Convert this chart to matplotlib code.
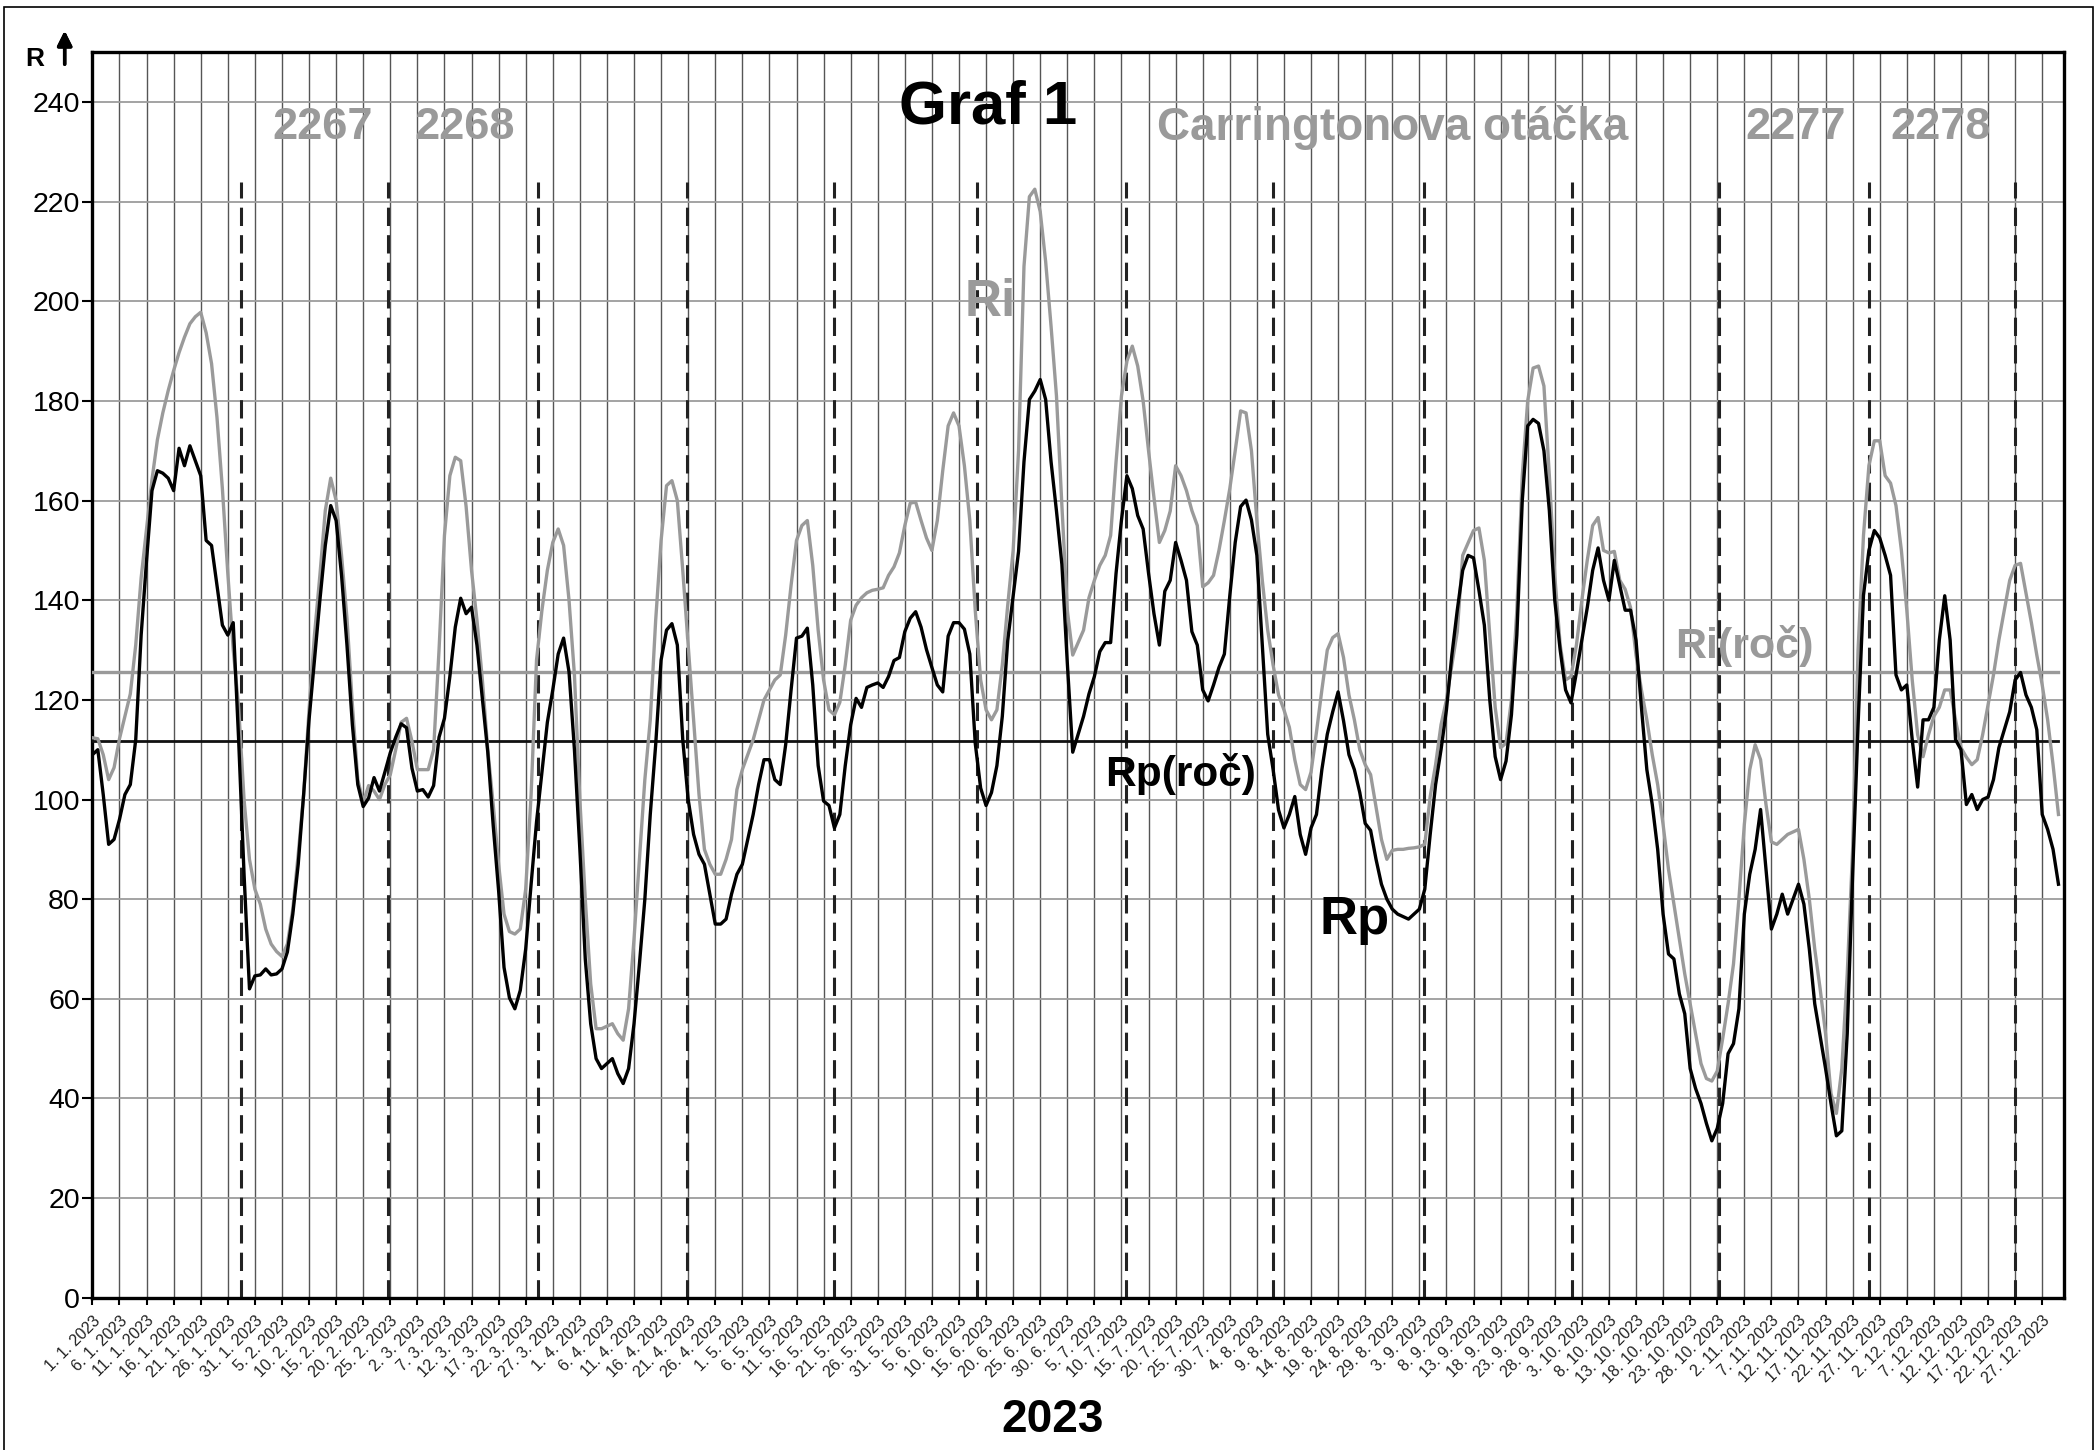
import numpy as np
import pandas as pd
import matplotlib
matplotlib.use("Agg")
import matplotlib.pyplot as plt
from matplotlib.patches import Rectangle

plt.rcParams['font.family'] = ['Liberation Sans', 'DejaVu Sans']

# daily values 1.1.2023 - 30.12.2023
rp = [109, 110, 101, 91, 92, 96, 101, 103, 112, 133,
      148, 162, 166, 165.5, 164.5, 162, 170.5, 167, 171, 168,
      165, 152, 151, 143, 135, 133, 135.5, 112, 85, 62,
      64.6, 64.8, 66, 64.8, 65, 66, 69.4, 77, 87, 101,
      116, 128, 140, 151, 159, 156, 145, 131, 115, 103,
      98.6, 100.3, 104.4, 101.7, 105.5, 109.4, 112.5, 115.2, 114.4, 106.3,
      101.7, 102, 100.5, 102.8, 112.5, 116.3, 124.7, 134.6, 140.4, 137.3,
      138.6, 131, 120.3, 109.5, 94.8, 81.7, 66.3, 60.2, 58, 61.7,
      70, 83, 95.5, 105.5, 115.5, 122, 129.2, 132.4, 125.6, 110,
      90, 68, 55, 48, 46, 47, 48, 45, 43, 46,
      55, 67, 80, 97, 111, 128, 134, 135.3, 131, 112,
      100, 93, 89, 87, 81, 75, 75, 76, 81, 85,
      87, 92, 97, 103, 108, 108, 104, 103, 111, 122,
      132.4, 132.8, 134.4, 123, 106.8, 99.7, 98.8, 94.3, 97, 106.8,
      115, 120.3, 118.5, 122.5, 123, 123.4, 122.5, 124.7, 127.9, 128.5,
      133.7, 136.4, 137.7, 134.6, 130.1, 126.5, 123, 121.6, 132.8, 135.5,
      135.5, 134.2, 129.2, 111.3, 102.3, 98.8, 101.4, 106.8, 116.7, 131.9,
      140.9, 149.8, 167.8, 180.3, 182, 184.3, 180.3, 167.8, 157.9, 147.2,
      127.4, 109.5, 113.1, 116.7, 121.2, 124.7, 129.7, 131.5, 131.5, 145.4,
      156.1, 165, 162.4, 157, 154.3, 145.4, 137.3, 131, 141.8, 144,
      151.6, 148, 144, 133.7, 131, 122, 119.8, 123, 126.5, 129.2,
      140.9, 151.6, 158.8, 160.1, 156.1, 149, 131, 113.1, 106, 97.9,
      94.3, 97, 100.6, 93, 89, 94.3, 97, 106, 113.1, 117.6,
      121.6, 115.8, 109, 106, 101.4, 95.2, 93.8, 88, 83, 80,
      78, 77, 76.5, 76, 77, 78, 82, 93, 103, 110,
      118, 129, 138, 146, 149, 148.5, 142, 135, 120, 108.6,
      104, 107.7, 117, 133, 160, 175, 176.3, 175.5, 170, 158,
      140, 130, 122, 119.4, 125.5, 132, 138.5, 146, 150.5, 144,
      140, 148, 143, 138, 138, 132, 118.5, 106, 99, 90,
      77, 69, 68, 61, 57, 46, 42, 39, 35, 31.5,
      34, 39, 49, 51, 58, 77, 85, 90, 98, 86,
      74, 77, 81, 77, 80, 83, 79, 70, 59, 52.5,
      46, 39, 32.5, 33.5, 53, 85, 115, 141, 150, 154,
      152.5, 149, 145, 125, 122, 123, 112, 102.5, 116, 116,
      118.5, 132, 140.9, 132, 112, 110, 99, 101, 98, 100,
      100.5, 104, 110.4, 114, 117.6, 124, 125.5, 121, 118.5, 114,
      97, 94, 90, 83]

ri = [112.4, 112.2, 109, 104, 106.4, 112.2, 116.7, 121.2, 131, 144.5,
      154.3, 164.2, 172.2, 177.6, 182.1, 186.1, 189.7, 192.8, 195.5, 196.9,
      197.8, 193.7, 187.5, 176.7, 162.4, 145.4, 130.1, 118.5, 100, 88,
      82, 79, 74, 71, 69.5, 68.5, 71, 78, 89, 101,
      118, 133, 145, 158, 164.5, 160, 149, 136.4, 119, 104,
      99.4, 102.8, 101.7, 100, 103, 105, 110, 115.5, 116.3, 111.7,
      106, 106, 106, 110, 130, 153, 165, 168.7, 168, 158.8,
      146, 136, 124, 110, 99, 87, 77, 73.5, 73, 74,
      82, 101, 128, 138, 146, 151.6, 154.3, 151, 140, 125,
      100, 80, 63, 54, 54, 54.5, 55, 53, 51.7, 58,
      72, 88, 104, 116, 136, 152, 163, 164, 160, 146,
      131, 116, 101, 90, 87, 85, 85, 88, 92, 102,
      106, 109, 112, 116, 120, 122, 124, 125, 133, 143,
      152, 155, 156, 147, 134, 124, 118, 117, 119.5, 127,
      136, 139, 140.5, 141.5, 142, 142.2, 142.5, 145, 146.7, 149.5,
      155, 159.5, 159.7, 156, 152.5, 150, 156, 166, 175, 177.6,
      175, 167, 156, 138, 124, 118, 116, 118, 127, 139,
      150, 170, 207, 221, 222.5, 218, 208, 195, 181, 159,
      138, 129, 131.5, 134, 140.5, 144, 147, 149, 153, 167.8,
      181, 188, 191, 187, 180, 170, 160.6, 151.6, 154, 157.9,
      167, 165, 162, 158, 155, 142.7, 143.5, 145, 150, 156,
      162.4, 170, 178, 177.6, 170, 156, 144, 134, 127, 121,
      118, 114.5, 108, 103, 102, 105.5, 113.5, 122, 130, 132.5,
      133.3, 128.5, 121, 116, 110, 107, 105, 98.5, 92, 88,
      89.8, 90, 90, 90.2, 90.3, 90.5, 91, 100.6, 107, 115,
      120, 127, 133.7, 149, 151.5, 154, 154.5, 148, 133, 118.5,
      110.4, 111.3, 120, 138, 165, 180, 186.6, 187, 183, 165,
      145, 131, 124, 124.7, 131, 140, 148, 155, 156.6, 150,
      149.5, 149.8, 144, 142.2, 138.5, 129, 122, 116, 109, 103,
      95, 86, 79, 72, 65, 59, 53, 47, 44, 43.5,
      45.5, 52, 59, 67, 80, 95, 106, 111, 108, 99,
      91.5, 91, 92, 93, 93.5, 94, 88, 80, 70, 62,
      53, 41, 37, 46, 65, 90, 130, 153, 167, 172,
      172, 165, 163.5, 159, 150, 138, 124, 113, 108.6, 113,
      116.7, 118.5, 122, 122, 116, 110.4, 108.5, 107, 108, 113,
      119, 125, 132, 138, 144, 147, 147.4, 141.5, 135.5, 129,
      123, 116, 107, 97]

rp_roc = 111.8   # rocny priemer Rp
ri_roc = 125.5   # rocny priemer Ri

# zaciatky Carringtonovych otacok (den od 1.1.2023)
carrington_starts = [27.4, 54.6, 82.3, 109.7, 136.9, 163.4, 190.8,
                     218.0, 245.9, 273.1, 300.3, 328.0, 354.9]
carrington_labels = [("2267", 42.5), ("2268", 68.7), ("2277", 314.4), ("2278", 341.3)]

dates = pd.date_range("2023-01-01", periods=len(rp), freq="D")
days = np.arange(len(rp))
tick_pos = days[::5]
tick_labels = [f"{d.day}. {d.month}. {d.year}" for d in dates[::5]]

GRAY = "#9a9a9a"

fig = plt.figure(figsize=(21, 14.5), dpi=100)
ax = fig.add_axes([0.0440, 0.1050, 0.9388, 0.8590])

ax.set_xlim(0, 364)
ax.set_ylim(0, 250)
ax.set_xticks(tick_pos)
ax.set_xticklabels(tick_labels, rotation=45, ha="right", rotation_mode="anchor",
                   fontsize=11.5, color="#222222")
ax.set_yticks(np.arange(0, 241, 20))
ax.tick_params(axis="y", labelsize=20.5, length=7, width=1.5, pad=2)
ax.tick_params(axis="x", length=5, width=1.5, pad=6)
ax.xaxis.grid(True, color="#555555", lw=1.0)
ax.yaxis.grid(True, color="#9c9c9c", lw=1.3)
ax.set_axisbelow(True)
for s in ax.spines.values():
    s.set_linewidth(2.4)

# Carringtonove otacky
for c in carrington_starts:
    ax.plot([c, c], [0, 224], color="#222222", lw=2.2, ls=(0, (6, 3)), zorder=2)

# rocne priemery
ax.plot(days, [ri_roc] * len(days), color=GRAY, lw=2.4, zorder=3)
ax.plot(days, [rp_roc] * len(days), color="#111111", lw=2.0, zorder=3)

ax.plot(days, ri, color=GRAY, lw=2.4, zorder=4)
ax.plot(days, rp, color="black", lw=2.4, zorder=5)

# popisy
ax.text(165.3, 238.7, "Graf 1", fontsize=44.5, fontweight="bold", ha="center", va="center")
for txt, xpos in carrington_labels:
    ax.text(xpos, 234.9, txt, fontsize=32.5, fontweight="bold", color=GRAY, ha="center", va="center")
ax.text(240, 234.9, "Carringtonova otáčka", fontsize=33, fontweight="bold", color=GRAY,
        ha="center", va="center")
ax.text(165.8, 199.7, "Ri", fontsize=37, fontweight="bold", color=GRAY, ha="center", va="center")
ax.text(305, 130.8, "Ri(roč)", fontsize=31, fontweight="bold", color=GRAY, ha="center", va="center")
ax.text(201, 105.2, "Rp(roč)", fontsize=30.5, fontweight="bold", ha="center", va="center")
ax.text(233, 75.9, "Rp", fontsize=38, fontweight="bold", ha="center", va="center")

fig.text(0.501, 0.0207, "2023", fontsize=33, fontweight="bold", ha="center", va="center")
fig.text(0.0165, 0.9593, "R", fontsize=19, fontweight="bold", ha="center", va="center")
fig.add_artist(plt.annotate("", xy=(0.0308, 0.9807), xytext=(0.0308, 0.9538),
                            xycoords="figure fraction", textcoords="figure fraction",
                            arrowprops=dict(arrowstyle="-|>", lw=2.5, color="black",
                                            mutation_scale=22)))

# ramcek okolo grafu
fig.add_artist(Rectangle((0.0021, -0.05), 0.9946, 1.0452, transform=fig.transFigure,
                         fill=False, lw=1.2, edgecolor="black"))

fig.savefig("out.png", dpi=100)
